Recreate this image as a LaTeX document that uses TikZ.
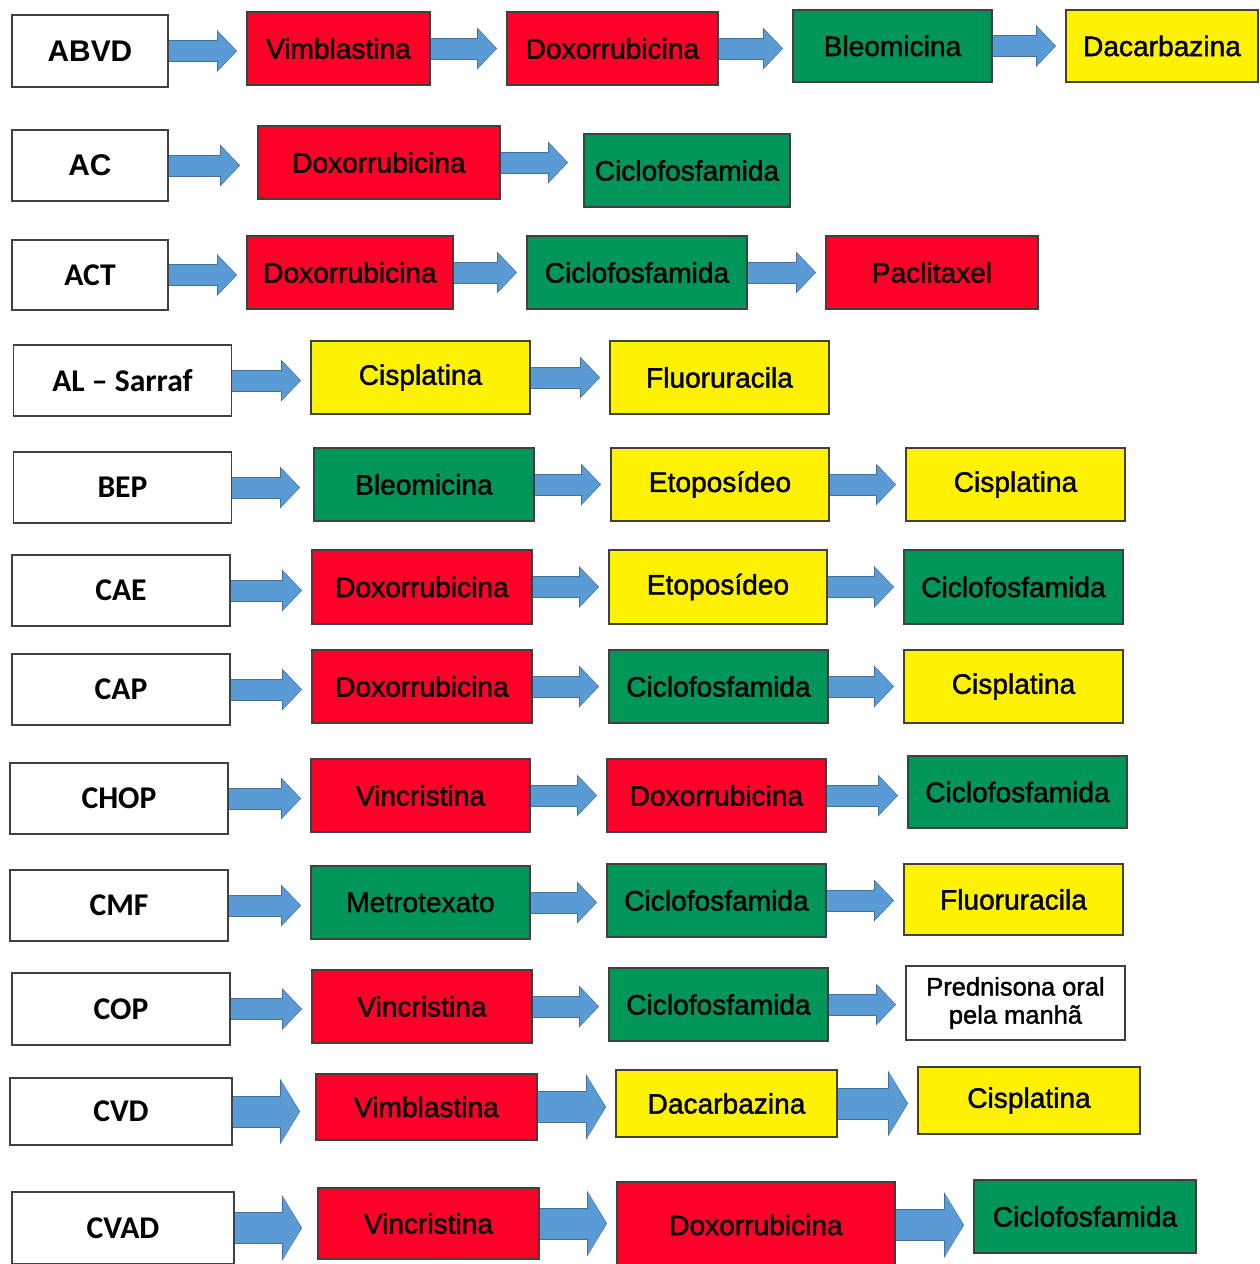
\documentclass[tikz,border=0pt]{standalone}
\usepackage{fontspec}
\setmainfont{Liberation Sans}
\newfontfamily\drugfont{Liberation Sans}[FakeBold=1.5]
\newfontfamily\calfont{Carlito}
\usepackage{tikz}
\usetikzlibrary{arrows.meta}
\definecolor{DrugRed}{RGB}{255, 0, 40}
\definecolor{DrugGreen}{RGB}{0, 150, 90}
\definecolor{DrugYellow}{RGB}{255, 242, 0}
\definecolor{ArrowBlue}{RGB}{91, 155, 213}
\definecolor{ArrowEdge}{RGB}{65, 113, 156}
\definecolor{BoxLine}{RGB}{64, 64, 64}
\def\flowgap{0.2cm}

\begin{document}
\begin{tikzpicture}[x=0.2mm, y=-0.2mm,
        box/.style={draw=BoxLine, line width=1.1pt, minimum width=4.38cm, minimum height=1.46cm, inner sep=0pt, font=\drugfont\fontsize{16}{19}\selectfont},
        regime/.style={box, fill=white, minimum width=4.36cm, minimum height=1.42cm, font=\calfont\bfseries\fontsize{18}{21}\selectfont},
        redbox/.style={box, fill=DrugRed},
        greenbox/.style={box, fill=DrugGreen},
        yellowbox/.style={box, fill=DrugYellow},
        flowgap/.code={\def\flowgap{#1}},
        flow/.style={draw=ArrowBlue, line width=0.4cm, shorten >=\flowgap,
            -{Triangle[length=0.36cm, width=0.76cm, line width=0pt]},
            preaction={draw=ArrowEdge, line width=0.44cm, shorten >=\flowgap-0.02cm,
                -{Triangle[length=0.4cm, width=0.84cm, line width=0pt]}}},
        bigflow/.style={draw=ArrowBlue, line width=0.6cm, shorten >=\flowgap,
            -{Triangle[length=0.36cm, width=1.24cm, line width=0pt]},
            preaction={draw=ArrowEdge, line width=0.64cm, shorten >=\flowgap-0.02cm,
                -{Triangle[length=0.4cm, width=1.32cm, line width=0pt]}}}]
        \useasboundingbox (0,0) rectangle (1260,1264);

        % ABVD
        \node[regime, minimum width=3.12cm, minimum height=1.44cm, font=\bfseries\fontsize{17}{20}\selectfont] (abvd) at (90,51) {ABVD};
        \node[redbox, minimum width=3.66cm] (abvd1) at (338.5,48.5) {Vimblastina};
        \node[redbox, minimum width=4.22cm] (abvd2) at (612.5,48.5) {Doxorrubicina};
        \node[greenbox, minimum width=3.98cm, minimum height=1.44cm] (abvd3) at (892.5,46) {Bleomicina};
        \node[yellowbox, minimum width=3.84cm, minimum height=1.44cm] (abvd4) at (1162,46) {Dacarbazina};

        % AC
        \node[regime, minimum width=3.12cm, font=\bfseries\fontsize{17}{20}\selectfont] (ac) at (90,165.5) {AC};
        \node[redbox, minimum width=4.84cm] (ac1) at (379,162.5) {Doxorrubicina};
        \node[greenbox, minimum width=4.12cm] (ac2) at (687,170.5) {Ciclofosfamida};

        % ACT
        \node[regime, minimum width=3.12cm, minimum height=1.40cm] (act) at (90,275) {ACT};
        \node[redbox, minimum width=4.12cm] (act1) at (350,272.5) {Doxorrubicina};
        \node[greenbox, minimum width=4.40cm] (act2) at (637,272.5) {Ciclofosfamida};
        \node[redbox, minimum width=4.24cm] (act3) at (932,272.5) {Paclitaxel};

        % AL - Sarraf
        \node[regime] (sarraf) at (122.5,380.5) {AL – Sarraf};
        \node[yellowbox] (sarraf1) at (420.5,377.5) {Cisplatina};
        \node[yellowbox] (sarraf2) at (719.5,377.5) {Fluoruracila};

        % BEP
        \node[regime] (bep) at (122.5,487.5) {BEP};
        \node[greenbox, minimum width=4.40cm] (bep1) at (424,484.5) {Bleomicina};
        \node[yellowbox, minimum width=4.36cm] (bep2) at (720,484.5) {Etoposídeo};
        \node[yellowbox] (bep3) at (1015.5,484.5) {Cisplatina};

        % CAE
        \node[regime] (cae) at (121,590.5) {CAE};
        \node[redbox, minimum width=4.40cm, minimum height=1.48cm] (cae1) at (422,587) {Doxorrubicina};
        \node[yellowbox, minimum width=4.36cm, minimum height=1.48cm] (cae2) at (718,587) {Etoposídeo};
        \node[greenbox, minimum height=1.48cm] (cae3) at (1013.5,587) {Ciclofosfamida};

        % CAP
        \node[regime] (cap) at (121,689.5) {CAP};
        \node[redbox, minimum width=4.40cm] (cap1) at (422,686.5) {Doxorrubicina};
        \node[greenbox] (cap2) at (718.5,686.5) {Ciclofosfamida};
        \node[yellowbox] (cap3) at (1013.5,686.5) {Cisplatina};

        % CHOP
        \node[regime] (chop) at (119,798.5) {CHOP};
        \node[redbox] (chop1) at (420.5,795.5) {Vincristina};
        \node[redbox] (chop2) at (716.5,795.5) {Doxorrubicina};
        \node[greenbox, minimum height=1.44cm] (chop3) at (1017.5,792) {Ciclofosfamida};

        % CMF
        \node[regime] (cmf) at (119,905.5) {CMF};
        \node[greenbox] (cmf1) at (420.5,902.5) {Metrotexato};
        \node[greenbox] (cmf2) at (716.5,900.5) {Ciclofosfamida};
        \node[yellowbox, minimum height=1.42cm] (cmf3) at (1013.5,899.5) {Fluoruracila};

        % COP
        \node[regime, minimum height=1.44cm] (cop) at (121,1009) {COP};
        \node[redbox, minimum width=4.40cm] (cop1) at (422,1006.5) {Vincristina};
        \node[greenbox] (cop2) at (718.5,1004.5) {Ciclofosfamida};
        \node[box, fill=white, minimum height=1.48cm, align=center, font=\drugfont\fontsize{14.5}{16}\selectfont] (cop3) at (1015.5,1003) {Prednisona oral\\pela manhã};

        % CVD
        \node[regime, minimum width=4.44cm, minimum height=1.34cm] (cvd) at (121,1111.5) {CVD};
        \node[redbox, minimum width=4.42cm, minimum height=1.32cm] (cvd1) at (426.5,1107) {Vimblastina};
        \node[yellowbox, minimum width=4.42cm, minimum height=1.34cm] (cvd2) at (726.5,1103.5) {Dacarbazina};
        \node[yellowbox, minimum width=4.44cm, minimum height=1.34cm] (cvd3) at (1029,1100.5) {Cisplatina};

        % CVAD
        \node[regime, minimum width=4.44cm, minimum height=1.44cm] (cvad) at (123,1228) {CVAD};
        \node[redbox, minimum width=4.42cm, minimum height=1.42cm] (cvad1) at (428.5,1223.5) {Vincristina};
        \node[redbox, minimum width=5.56cm, minimum height=1.72cm] (cvad2) at (756,1225) {Doxorrubicina};
        \node[greenbox, minimum width=4.44cm] (cvad3) at (1085,1216.5) {Ciclofosfamida};

        % arrows
        \draw[flow] (abvd.east) -- (abvd.east -| abvd1.west);
        \draw[flow] (abvd1.east) -- (abvd1.east -| abvd2.west);
        \draw[flow] (abvd2.east) -- (abvd2.east -| abvd3.west);
        \draw[flow] (abvd3.east) -- (abvd3.east -| abvd4.west);

        \draw[flowgap=0.36cm, flow] (ac.east) -- (ac.east -| ac1.west);
        \draw[flowgap=0.32cm, flow] (ac1.east) -- (ac1.east -| ac2.west);

        \draw[flow] (act.east) -- (act.east -| act1.west);
        \draw[flow] (act1.east) -- (act1.east -| act2.west);
        \draw[flow] (act2.east) -- (act2.east -| act3.west);

        \draw[flow] (sarraf.east) -- (sarraf.east -| sarraf1.west);
        \draw[flow] (sarraf1.east) -- (sarraf1.east -| sarraf2.west);

        \draw[flowgap=0.28cm, flow] (bep.east) -- (bep.east -| bep1.west);
        \draw[flow] (bep1.east) -- (bep1.east -| bep2.west);
        \draw[flow] (bep2.east) -- (bep2.east -| bep3.west);

        \draw[flow] (cae.east) -- (cae.east -| cae1.west);
        \draw[flow] (cae1.east) -- (cae1.east -| cae2.west);
        \draw[flow] (cae2.east) -- (cae2.east -| cae3.west);

        \draw[flow] (cap.east) -- (cap.east -| cap1.west);
        \draw[flow] (cap1.east) -- (cap1.east -| cap2.west);
        \draw[flow] (cap2.east) -- (cap2.east -| cap3.west);

        \draw[flow] (chop.east) -- (chop.east -| chop1.west);
        \draw[flow] (chop1.east) -- (chop1.east -| chop2.west);
        \draw[flow] (chop2.east) -- (chop2.east -| chop3.west);

        \draw[flow] (cmf.east) -- (cmf.east -| cmf1.west);
        \draw[flow] (cmf1.east) -- (cmf1.east -| cmf2.west);
        \draw[flow] (cmf2.east) -- (cmf2.east -| cmf3.west);

        \draw[flow] (cop.east) -- (cop.east -| cop1.west);
        \draw[flow] (cop1.east) -- (cop1.east -| cop2.west);
        \draw[flow] (cop2.east) -- (cop2.east -| cop3.west);

        \draw[flowgap=0.32cm, bigflow] (cvd.east) -- (cvd.east -| cvd1.west);
        \draw[bigflow] (cvd1.east) -- (cvd1.east -| cvd2.west);
        \draw[bigflow] (cvd2.east) -- (cvd2.east -| cvd3.west);

        \draw[flowgap=0.32cm, bigflow] (cvad.east) -- (cvad.east -| cvad1.west);
        \draw[bigflow] (cvad1.east) -- (cvad1.east -| cvad2.west);
        \draw[bigflow] (cvad2.east) -- (cvad2.east -| cvad3.west);
\end{tikzpicture}
\end{document}
